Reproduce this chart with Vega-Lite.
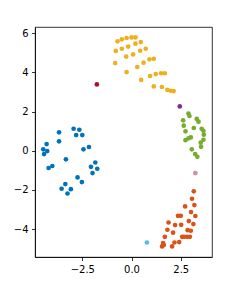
{
  "$schema": "https://vega.github.io/schema/vega-lite/v6.json",
  "width": 177,
  "height": 230,
  "autosize": {"type": "none"},
  "padding": {"left": 35, "top": 27, "right": 38, "bottom": 38},
  "background": "white",
  "config": {
    "view": {"stroke": "black", "strokeWidth": 0.8},
    "axis": {
      "grid": false,
      "domainColor": "black",
      "domainWidth": 0.8,
      "tickColor": "black",
      "tickWidth": 0.8,
      "tickSize": 3.5,
      "labelPadding": 3.5,
      "labelColor": "black",
      "labelFont": "DejaVu Sans",
      "labelFontSize": 10,
      "title": null
    }
  },
  "data": {
    "values": [
      {"x": -2.94, "y": 1.12, "g": "a"},
      {"x": -2.65, "y": 1.07, "g": "a"},
      {"x": -2.81, "y": 0.80, "g": "a"},
      {"x": -2.50, "y": 0.80, "g": "a"},
      {"x": -3.68, "y": 0.94, "g": "a"},
      {"x": -3.68, "y": 0.48, "g": "a"},
      {"x": -4.31, "y": 0.34, "g": "a"},
      {"x": -4.48, "y": 0.07, "g": "a"},
      {"x": -4.28, "y": -0.02, "g": "a"},
      {"x": -4.44, "y": -0.17, "g": "a"},
      {"x": -2.44, "y": 0.07, "g": "a"},
      {"x": -2.16, "y": 0.19, "g": "a"},
      {"x": -3.33, "y": -0.44, "g": "a"},
      {"x": -4.21, "y": -0.88, "g": "a"},
      {"x": -4.02, "y": -0.78, "g": "a"},
      {"x": -1.84, "y": -0.60, "g": "a"},
      {"x": -2.06, "y": -0.82, "g": "a"},
      {"x": -1.74, "y": -0.92, "g": "a"},
      {"x": -1.98, "y": -1.14, "g": "a"},
      {"x": -2.74, "y": -1.36, "g": "a"},
      {"x": -2.52, "y": -1.60, "g": "a"},
      {"x": -3.36, "y": -1.70, "g": "a"},
      {"x": -3.55, "y": -1.94, "g": "a"},
      {"x": -3.08, "y": -1.96, "g": "a"},
      {"x": -3.25, "y": -2.18, "g": "a"},
      {"x": 3.16, "y": -2.07, "g": "b"},
      {"x": 3.07, "y": -2.45, "g": "b"},
      {"x": 3.19, "y": -2.77, "g": "b"},
      {"x": 2.72, "y": -2.84, "g": "b"},
      {"x": 3.02, "y": -3.13, "g": "b"},
      {"x": 3.24, "y": -3.33, "g": "b"},
      {"x": 2.36, "y": -3.32, "g": "b"},
      {"x": 2.50, "y": -3.32, "g": "b"},
      {"x": 2.91, "y": -3.59, "g": "b"},
      {"x": 3.14, "y": -3.74, "g": "b"},
      {"x": 1.88, "y": -3.66, "g": "b"},
      {"x": 2.21, "y": -3.79, "g": "b"},
      {"x": 2.52, "y": -3.78, "g": "b"},
      {"x": 1.82, "y": -4.03, "g": "b"},
      {"x": 2.11, "y": -4.18, "g": "b"},
      {"x": 2.85, "y": -4.05, "g": "b"},
      {"x": 3.01, "y": -4.08, "g": "b"},
      {"x": 2.82, "y": -4.39, "g": "b"},
      {"x": 2.96, "y": -4.39, "g": "b"},
      {"x": 2.57, "y": -4.39, "g": "b"},
      {"x": 2.67, "y": -4.39, "g": "b"},
      {"x": 1.69, "y": -4.39, "g": "b"},
      {"x": 1.60, "y": -4.71, "g": "b"},
      {"x": 1.64, "y": -4.81, "g": "b"},
      {"x": 1.55, "y": -4.88, "g": "b"},
      {"x": 2.18, "y": -4.68, "g": "b"},
      {"x": 2.42, "y": -4.66, "g": "b"},
      {"x": 2.06, "y": -4.88, "g": "b"},
      {"x": -0.71, "y": 5.58, "g": "c"},
      {"x": -0.49, "y": 5.68, "g": "c"},
      {"x": -0.25, "y": 5.75, "g": "c"},
      {"x": 0.00, "y": 5.78, "g": "c"},
      {"x": 0.20, "y": 5.78, "g": "c"},
      {"x": 0.20, "y": 5.46, "g": "c"},
      {"x": 0.47, "y": 5.54, "g": "c"},
      {"x": -0.80, "y": 5.09, "g": "c"},
      {"x": -0.49, "y": 5.20, "g": "c"},
      {"x": -0.17, "y": 5.31, "g": "c"},
      {"x": 0.44, "y": 5.10, "g": "c"},
      {"x": 0.72, "y": 5.20, "g": "c"},
      {"x": -0.27, "y": 4.80, "g": "c"},
      {"x": 0.08, "y": 4.91, "g": "c"},
      {"x": -0.83, "y": 4.47, "g": "c"},
      {"x": 0.61, "y": 4.49, "g": "c"},
      {"x": 0.91, "y": 4.66, "g": "c"},
      {"x": 1.13, "y": 4.69, "g": "c"},
      {"x": 0.29, "y": 4.27, "g": "c"},
      {"x": -0.25, "y": 4.01, "g": "c"},
      {"x": 0.94, "y": 3.81, "g": "c"},
      {"x": 1.23, "y": 3.91, "g": "c"},
      {"x": 1.50, "y": 3.95, "g": "c"},
      {"x": 1.69, "y": 3.95, "g": "c"},
      {"x": 0.49, "y": 3.61, "g": "c"},
      {"x": 1.13, "y": 3.28, "g": "c"},
      {"x": 1.54, "y": 3.25, "g": "c"},
      {"x": 1.82, "y": 3.10, "g": "c"},
      {"x": 1.99, "y": 3.06, "g": "c"},
      {"x": 2.14, "y": 3.04, "g": "c"},
      {"x": 2.45, "y": 2.26, "g": "d"},
      {"x": 2.89, "y": 1.90, "g": "e"},
      {"x": 2.94, "y": 1.77, "g": "e"},
      {"x": 2.62, "y": 1.55, "g": "e"},
      {"x": 2.65, "y": 1.28, "g": "e"},
      {"x": 2.74, "y": 0.99, "g": "e"},
      {"x": 3.31, "y": 1.62, "g": "e"},
      {"x": 3.40, "y": 1.48, "g": "e"},
      {"x": 3.16, "y": 1.16, "g": "e"},
      {"x": 3.56, "y": 1.12, "g": "e"},
      {"x": 3.65, "y": 1.02, "g": "e"},
      {"x": 3.67, "y": 0.82, "g": "e"},
      {"x": 2.74, "y": 0.54, "g": "e"},
      {"x": 2.89, "y": 0.63, "g": "e"},
      {"x": 3.01, "y": 0.68, "g": "e"},
      {"x": 3.65, "y": 0.56, "g": "e"},
      {"x": 3.51, "y": 0.41, "g": "e"},
      {"x": 3.53, "y": 0.20, "g": "e"},
      {"x": 3.06, "y": 0.07, "g": "e"},
      {"x": 3.23, "y": -0.17, "g": "e"},
      {"x": 3.34, "y": -0.31, "g": "e"},
      {"x": 0.78, "y": -4.68, "g": "f"},
      {"x": -1.76, "y": 3.38, "g": "g"},
      {"x": 3.24, "y": -1.14, "g": "h"}
    ]
  },
  "mark": {"type": "point", "filled": true, "opacity": 1, "size": 22, "shape": "circle"},
  "encoding": {
    "x": {
      "field": "x",
      "type": "quantitative",
      "scale": {"domain": [-4.9, 4.085], "nice": false, "zero": false},
      "axis": {"values": [-2.5, 0, 2.5], "format": ".1f"}
    },
    "y": {
      "field": "y",
      "type": "quantitative",
      "scale": {"domain": [-5.42, 6.31], "nice": false, "zero": false},
      "axis": {"values": [-4, -2, 0, 2, 4, 6], "format": "d"}
    },
    "color": {
      "field": "g",
      "type": "nominal",
      "scale": {
        "domain": ["a", "b", "c", "d", "e", "f", "g", "h"],
        "range": ["#0072BD", "#D95319", "#EDB120", "#7E2F8E", "#77AC30", "#4DBEEE", "#A2142F", "#D98BA8"]
      },
      "legend": null
    }
  }
}
